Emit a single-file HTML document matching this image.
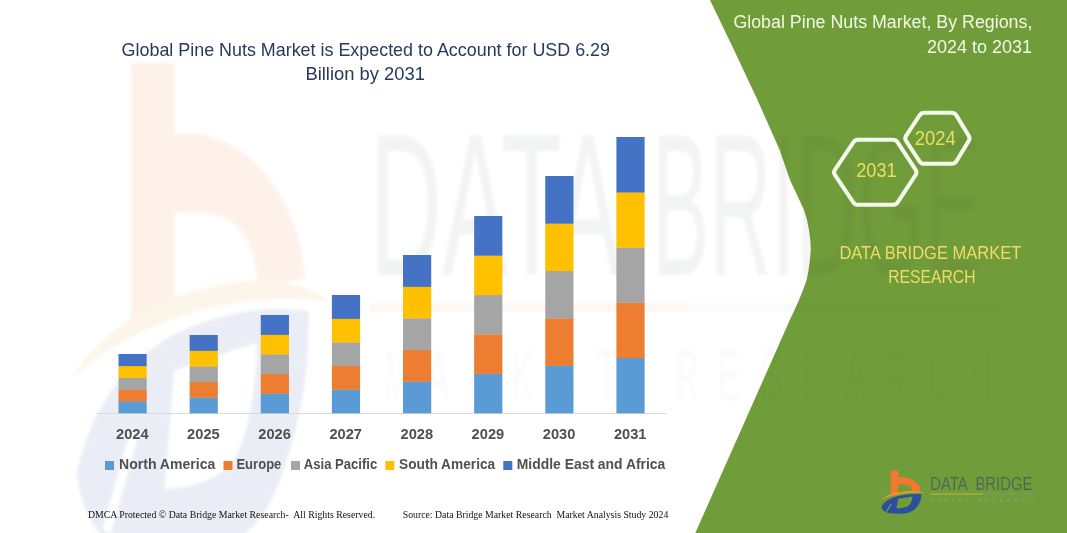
<!DOCTYPE html>
<html><head><meta charset="utf-8">
<style>
html,body{margin:0;padding:0;background:#fff;}
body{width:1067px;height:533px;overflow:hidden;position:relative;font-family:"Liberation Sans",sans-serif;}
svg{position:absolute;left:0;top:0;display:block;will-change:transform;}
text{-webkit-font-smoothing:antialiased;}
text{font-family:"Liberation Sans",sans-serif;}
.serif{font-family:"Liberation Serif",serif;}
</style></head><body>
<svg width="1067" height="533" viewBox="0 0 1067 533">
<defs>
<filter id="bl" x="-5%" y="-5%" width="110%" height="110%"><feGaussianBlur stdDeviation="1.6"/></filter>
<g id="mark">
<g id="mo"><path d="M890.7,470.4 H898.2 V477.2 C905,476.4 913,479 917.5,484 C919.6,486.4 920.6,488.8 920.6,490.8 L912.6,491.3 C912.3,488 909.5,485 905,484.7 C902.5,484.5 900,484.5 898.2,484.6 V493 C895.5,493.6 893,494.5 890.7,495.6 Z" fill="#F4772F"/>
<path d="M880.4,500.2 C886,495.1 896,492.2 908,491.1 C914,490.6 920,491 925,492.9 C920,492.6 914,492.5 908,493.1 C896,494.4 887,496.9 880.4,500.2 Z" fill="#E89A2E"/></g>
<g id="mb"><path d="M881.3,507 C884,501.5 890,498 898,496 C906,494.2 914,493.6 921.3,494.1 C921.5,498 920.5,501 919,503.7 C916.5,508 914,510.5 911,511.5 C907,513.5 903,513.9 900,513.8 C895,513.8 891,513.5 887.5,512.7 C884,511.5 882,509.5 881.3,507 Z M898.2,498.8 L912.4,496.6 C912.3,501 910.5,504.5 907.8,506.4 C904,507.8 900,508.2 896.5,508.2 Z M885.8,511.4 L890.6,503.6 L891.8,504.2 L887.2,511.8 Z" fill="#2B4F9E" fill-rule="evenodd"/></g>
</g>
</defs>
<rect width="1067" height="533" fill="#ffffff"/>
<!-- green panel -->
<polygon points="710,0 734,50 757.5,100 779.7,150 790,180 799.4,200 804,210 807,220 809,230 810.3,240 810.8,250 809.9,260 808.6,270 806.6,280 803,290 799,300 794.5,310 789.8,320 695.3,533 1067,533 1067,0" fill="#719C3A"/>
<!-- watermark -->
<g opacity="0.095" filter="url(#bl)">
<use href="#mo" transform="translate(131,63) scale(5.8,10.6) translate(-890.7,-470.4)"/>
<use href="#mb" transform="translate(131,311) scale(5.8,12.6) translate(-890.7,-494.1)"/>
</g>
<g fill="#3c4a40" opacity="0.06" filter="url(#bl)">
<text x="370" y="275" font-size="202" textLength="251" lengthAdjust="spacingAndGlyphs">DATA</text>
<text x="652" y="275" font-size="202" textLength="330" lengthAdjust="spacingAndGlyphs">BRIDGE</text>
</g>
<g fill="#3c4a40" opacity="0.025" font-size="75" filter="url(#bl)">
<text x="385.0" y="401" textLength="22" lengthAdjust="spacingAndGlyphs">M</text>
<text x="427.2" y="401" textLength="22" lengthAdjust="spacingAndGlyphs">A</text>
<text x="469.4" y="401" textLength="22" lengthAdjust="spacingAndGlyphs">R</text>
<text x="511.6" y="401" textLength="22" lengthAdjust="spacingAndGlyphs">K</text>
<text x="553.8" y="401" textLength="22" lengthAdjust="spacingAndGlyphs">E</text>
<text x="596.0" y="401" textLength="22" lengthAdjust="spacingAndGlyphs">T</text>
<text x="676.0" y="401" textLength="22" lengthAdjust="spacingAndGlyphs">R</text>
<text x="718.0" y="401" textLength="22" lengthAdjust="spacingAndGlyphs">E</text>
<text x="760.0" y="401" textLength="22" lengthAdjust="spacingAndGlyphs">S</text>
<text x="802.0" y="401" textLength="22" lengthAdjust="spacingAndGlyphs">E</text>
<text x="844.0" y="401" textLength="22" lengthAdjust="spacingAndGlyphs">A</text>
<text x="886.0" y="401" textLength="22" lengthAdjust="spacingAndGlyphs">R</text>
<text x="928.0" y="401" textLength="22" lengthAdjust="spacingAndGlyphs">C</text>
<text x="970.0" y="401" textLength="22" lengthAdjust="spacingAndGlyphs">H</text>
</g>
<rect x="370" y="303" width="318" height="9" fill="#F47B2A" opacity="0.05"/>
<rect x="688" y="303" width="312" height="9" fill="#2B4F9E" opacity="0.025"/>
<!-- chart -->
<line x1="96" y1="413.5" x2="666" y2="413.5" stroke="#D9D9D9" stroke-width="1"/>
<rect x="118.50" y="401.20" width="28.2" height="12.10" fill="#5B9BD5"/>
<rect x="118.50" y="389.40" width="28.2" height="12.10" fill="#ED7D31"/>
<rect x="118.50" y="377.60" width="28.2" height="12.10" fill="#A5A5A5"/>
<rect x="118.50" y="365.80" width="28.2" height="12.10" fill="#FFC000"/>
<rect x="118.50" y="354.00" width="28.2" height="12.10" fill="#4472C4"/>
<rect x="189.63" y="397.40" width="28.2" height="15.90" fill="#5B9BD5"/>
<rect x="189.63" y="381.80" width="28.2" height="15.90" fill="#ED7D31"/>
<rect x="189.63" y="366.20" width="28.2" height="15.90" fill="#A5A5A5"/>
<rect x="189.63" y="350.60" width="28.2" height="15.90" fill="#FFC000"/>
<rect x="189.63" y="335.00" width="28.2" height="15.90" fill="#4472C4"/>
<rect x="260.76" y="393.40" width="28.2" height="19.90" fill="#5B9BD5"/>
<rect x="260.76" y="373.80" width="28.2" height="19.90" fill="#ED7D31"/>
<rect x="260.76" y="354.20" width="28.2" height="19.90" fill="#A5A5A5"/>
<rect x="260.76" y="334.60" width="28.2" height="19.90" fill="#FFC000"/>
<rect x="260.76" y="315.00" width="28.2" height="19.90" fill="#4472C4"/>
<rect x="331.89" y="389.40" width="28.2" height="23.90" fill="#5B9BD5"/>
<rect x="331.89" y="365.80" width="28.2" height="23.90" fill="#ED7D31"/>
<rect x="331.89" y="342.20" width="28.2" height="23.90" fill="#A5A5A5"/>
<rect x="331.89" y="318.60" width="28.2" height="23.90" fill="#FFC000"/>
<rect x="331.89" y="295.00" width="28.2" height="23.90" fill="#4472C4"/>
<rect x="403.02" y="381.40" width="28.2" height="31.90" fill="#5B9BD5"/>
<rect x="403.02" y="349.80" width="28.2" height="31.90" fill="#ED7D31"/>
<rect x="403.02" y="318.20" width="28.2" height="31.90" fill="#A5A5A5"/>
<rect x="403.02" y="286.60" width="28.2" height="31.90" fill="#FFC000"/>
<rect x="403.02" y="255.00" width="28.2" height="31.90" fill="#4472C4"/>
<rect x="474.15" y="373.60" width="28.2" height="39.70" fill="#5B9BD5"/>
<rect x="474.15" y="334.20" width="28.2" height="39.70" fill="#ED7D31"/>
<rect x="474.15" y="294.80" width="28.2" height="39.70" fill="#A5A5A5"/>
<rect x="474.15" y="255.40" width="28.2" height="39.70" fill="#FFC000"/>
<rect x="474.15" y="216.00" width="28.2" height="39.70" fill="#4472C4"/>
<rect x="545.28" y="365.60" width="28.2" height="47.70" fill="#5B9BD5"/>
<rect x="545.28" y="318.20" width="28.2" height="47.70" fill="#ED7D31"/>
<rect x="545.28" y="270.80" width="28.2" height="47.70" fill="#A5A5A5"/>
<rect x="545.28" y="223.40" width="28.2" height="47.70" fill="#FFC000"/>
<rect x="545.28" y="176.00" width="28.2" height="47.70" fill="#4472C4"/>
<rect x="616.41" y="357.80" width="28.2" height="55.50" fill="#5B9BD5"/>
<rect x="616.41" y="302.60" width="28.2" height="55.50" fill="#ED7D31"/>
<rect x="616.41" y="247.40" width="28.2" height="55.50" fill="#A5A5A5"/>
<rect x="616.41" y="192.20" width="28.2" height="55.50" fill="#FFC000"/>
<rect x="616.41" y="137.00" width="28.2" height="55.50" fill="#4472C4"/>
<g font-size="14.4" font-weight="bold" fill="#505050">
<text x="132.3" y="439.2" text-anchor="middle" textLength="32.6" lengthAdjust="spacingAndGlyphs">2024</text>
<text x="203.4" y="439.2" text-anchor="middle" textLength="32.6" lengthAdjust="spacingAndGlyphs">2025</text>
<text x="274.6" y="439.2" text-anchor="middle" textLength="32.6" lengthAdjust="spacingAndGlyphs">2026</text>
<text x="345.7" y="439.2" text-anchor="middle" textLength="32.6" lengthAdjust="spacingAndGlyphs">2027</text>
<text x="416.8" y="439.2" text-anchor="middle" textLength="32.6" lengthAdjust="spacingAndGlyphs">2028</text>
<text x="487.9" y="439.2" text-anchor="middle" textLength="32.6" lengthAdjust="spacingAndGlyphs">2029</text>
<text x="559.1" y="439.2" text-anchor="middle" textLength="32.6" lengthAdjust="spacingAndGlyphs">2030</text>
<text x="630.2" y="439.2" text-anchor="middle" textLength="32.6" lengthAdjust="spacingAndGlyphs">2031</text>
</g>
<!-- legend -->
<g font-size="14" font-weight="bold" fill="#505050">
<rect x="105" y="461" width="9" height="9" fill="#5B9BD5"/>
<text x="119" y="468.6" textLength="96.3" lengthAdjust="spacingAndGlyphs">North America</text>
<rect x="223.5" y="461" width="9" height="9" fill="#ED7D31"/>
<text x="236.4" y="468.6" textLength="45" lengthAdjust="spacingAndGlyphs">Europe</text>
<rect x="291" y="461" width="9" height="9" fill="#A5A5A5"/>
<text x="303.8" y="468.6" textLength="73.4" lengthAdjust="spacingAndGlyphs">Asia Pacific</text>
<rect x="385.3" y="461" width="9" height="9" fill="#FFC000"/>
<text x="399" y="468.6" textLength="96.2" lengthAdjust="spacingAndGlyphs">South America</text>
<rect x="503.3" y="461" width="9" height="9" fill="#4472C4"/>
<text x="516.8" y="468.6" textLength="148.5" lengthAdjust="spacingAndGlyphs">Middle East and Africa</text>
</g>
<!-- titles -->
<g font-size="17.8" fill="#273A5E">
<text x="121.6" y="56.2" textLength="488.4" lengthAdjust="spacingAndGlyphs">Global Pine Nuts Market is Expected to Account for USD 6.29</text>
<text x="305.4" y="80" textLength="119.6" lengthAdjust="spacingAndGlyphs">Billion by 2031</text>
</g>
<g font-size="18" fill="#F1FAE4">
<text x="733.4" y="28" textLength="299" lengthAdjust="spacingAndGlyphs">Global Pine Nuts Market, By Regions,</text>
<text x="927" y="52.6" textLength="105" lengthAdjust="spacingAndGlyphs">2024 to 2031</text>
</g>
<!-- hexagons -->
<g fill="none" stroke="#F3FAEA" stroke-width="4" stroke-linejoin="round">
<path d="M834.87,174.79 Q833.20,172.30 834.87,169.81 L853.33,142.29 Q855.00,139.80 858.00,139.80 L893.00,139.80 Q896.00,139.80 897.64,142.31 L915.66,169.79 Q917.30,172.30 915.66,174.81 L897.64,202.29 Q896.00,204.80 893.00,204.80 L858.00,204.80 Q855.00,204.80 853.33,202.31 Z"/>
<path d="M906.05,140.81 Q904.40,138.30 906.05,135.79 L919.55,115.31 Q921.20,112.80 924.20,112.80 L951.80,112.80 Q954.80,112.80 956.36,115.36 L968.74,135.74 Q970.30,138.30 968.74,140.86 L956.36,161.24 Q954.80,163.80 951.80,163.80 L924.20,163.80 Q921.20,163.80 919.55,161.29 Z"/>
</g>
<g font-size="19.6" fill="#EADF62">
<text x="856.2" y="177.3" textLength="40.4" lengthAdjust="spacingAndGlyphs">2031</text>
<text x="914.8" y="145.4" textLength="41" lengthAdjust="spacingAndGlyphs">2024</text>
</g>
<g font-size="17.9" fill="#EFDB66">
<text x="839.4" y="258.7" textLength="182" lengthAdjust="spacingAndGlyphs">DATA BRIDGE MARKET</text>
<text x="888.2" y="282.8" textLength="87.4" lengthAdjust="spacingAndGlyphs">RESEARCH</text>
</g>
<!-- footer -->
<g class="serif" font-size="9.6" fill="#111">
<text class="serif" xml:space="preserve" x="87.9" y="517.5" textLength="287.3" lengthAdjust="spacingAndGlyphs">DMCA Protected © Data Bridge Market Research-  All Rights Reserved.</text>
<text class="serif" xml:space="preserve" x="402.7" y="517.5" textLength="265.6" lengthAdjust="spacingAndGlyphs">Source: Data Bridge Market Research  Market Analysis Study 2024</text>
</g>
<!-- logo small -->
<use href="#mark"/>
<g font-size="18.2" fill="#4A6557" stroke="#719C3A" stroke-width="0.2"><text x="930.2" y="490.1" textLength="37.6" lengthAdjust="spacingAndGlyphs">DATA</text><text x="975.4" y="490.1" textLength="57" lengthAdjust="spacingAndGlyphs">BRIDGE</text></g>
<line x1="930.5" y1="494" x2="983" y2="494" stroke="#C9B23A" stroke-width="1"/>
<line x1="983" y1="494" x2="1035" y2="494" stroke="#7E9A6B" stroke-width="1"/>
<text x="929" y="502.3" font-size="6" fill="#84A65E" textLength="104" lengthAdjust="spacing">MARKET RESEARCH</text>
</svg>
</body></html>
